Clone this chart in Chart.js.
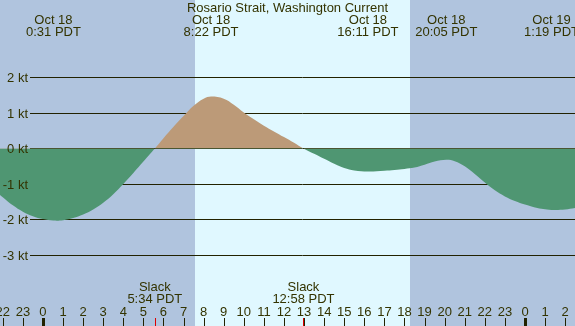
<!DOCTYPE html>
<html>
<head>
<meta charset="utf-8">
<script src="https://cdn.jsdelivr.net/npm/chart.js@4.4.1/dist/chart.umd.min.js"></script>
<style>
html,body{margin:0;padding:0;background:#b0c4de;}
#wrap{width:575px;height:326px;position:relative;}
</style>
</head>
<body>
<div id="wrap"><canvas id="c" width="575" height="326"></canvas></div>
<script>
// ---- data (hours since Oct 18 00:00 PDT, knots) ----
const hours = [-2.14,-1.5,-1.0,-0.5,0.0,0.52,1.0,1.5,2.0,2.5,3.0,3.5,4.0,4.5,5.0,5.57,6.0,6.5,7.0,7.5,8.0,8.37,9.0,9.5,10.0,10.5,11.0,11.5,12.0,12.5,12.97,13.5,14.0,14.5,15.0,15.5,16.18,17.0,17.5,18.0,18.5,19.0,19.5,20.08,20.5,21.0,21.5,22.0,22.5,23.0,23.5,24.0,24.5,25.32,26.0,26.49];
const knots = [-1.31,-1.60,-1.78,-1.91,-1.99,-2.03,-2.02,-1.96,-1.86,-1.72,-1.53,-1.29,-1.00,-0.69,-0.37,0.00,0.29,0.61,0.91,1.20,1.40,1.46,1.40,1.23,1.01,0.82,0.64,0.48,0.32,0.16,0.00,-0.15,-0.29,-0.43,-0.55,-0.62,-0.65,-0.63,-0.61,-0.58,-0.54,-0.46,-0.37,-0.32,-0.36,-0.50,-0.72,-0.96,-1.18,-1.35,-1.48,-1.58,-1.66,-1.73,-1.72,-1.68];
const yTicks = [2,1,0,-1,-2,-3];
const hourTicks = [-2,-1,0,1,2,3,4,5,6,7,8,9,10,11,12,13,14,15,16,17,18,19,20,21,22,23,24,25,26];
const eventTimes = [0.52,8.37,16.18,20.08,25.32];
const eventDates = ["Oct 18","Oct 18","Oct 18","Oct 18","Oct 19"];
const eventLabels = ["0:31 PDT","8:22 PDT","16:11 PDT","20:05 PDT","1:19 PDT"];
const slackTimes = [5.57,12.97];
const slackLabels = ["5:34 PDT","12:58 PDT"];
const daylight = [7.57,18.28];
const title = "Rosario Strait, Washington Current";

const FONT = '13px "Liberation Sans", Arial, sans-serif';
const TXT = '#333300';
const LINE = '#222200';

const decor = {
  id:'decor',
  beforeDatasetsDraw(chart){
    const {ctx, scales:{x,y}, width, height} = chart;
    ctx.save();
    ctx.fillStyle = '#b0c4de';
    ctx.fillRect(0,0,width,height);
    const x0 = Math.round(x.getPixelForValue(daylight[0]));
    const x1 = Math.round(x.getPixelForValue(daylight[1]));
    ctx.fillStyle = '#e0f8ff';
    ctx.fillRect(x0,0,x1-x0,height);
    ctx.strokeStyle = LINE; ctx.lineWidth = 1;
    yTicks.forEach(v=>{
      const py = Math.round(y.getPixelForValue(v))+0.5;
      ctx.beginPath(); ctx.moveTo(30,py); ctx.lineTo(width,py); ctx.stroke();
    });
    ctx.restore();
  },
  afterDatasetsDraw(chart){
    const {ctx, scales:{x,y}, width, height} = chart;
    ctx.save();
    ctx.font = FONT; ctx.fillStyle = TXT;
    ctx.textBaseline = 'middle'; ctx.textAlign = 'right';
    yTicks.forEach(v=>{
      const py = y.getPixelForValue(v);
      ctx.fillText(v + ' kt', 28, py+1);
    });
    ctx.textBaseline = 'alphabetic'; ctx.textAlign = 'center';
    ctx.fillText(title, width/2, 12);
    eventTimes.forEach((t,i)=>{
      const px = x.getPixelForValue(t);
      ctx.fillText(eventDates[i], px, 24);
      ctx.fillText(eventLabels[i], px, 36);
    });
    slackTimes.forEach((t,i)=>{
      const px = x.getPixelForValue(t);
      ctx.fillText('Slack', px, 291);
      ctx.fillText(slackLabels[i], px, 303);
      ctx.fillStyle = '#dd0000';
      ctx.fillRect(Math.round(px), 318, 1, height-318);
      ctx.fillStyle = TXT;
    });
    hourTicks.forEach(h=>{
      const px = x.getPixelForValue(h);
      const lab = ((h%24)+24)%24;
      ctx.fillStyle = TXT;
      ctx.fillText(String(lab), px, 316);
      ctx.fillStyle = LINE;
      if(lab===0) ctx.fillRect(Math.round(px)-1, 318, 3, height-318);
      else ctx.fillRect(Math.round(px), 318, 1, height-318);
    });
    ctx.restore();
  }
};

new Chart(document.getElementById('c'), {
  type:'line',
  data:{
    datasets:[{
      data: hours.map((h,i)=>({x:h,y:knots[i]})),
      borderWidth:0,
      borderColor:'rgba(0,0,0,0)',
      pointRadius:0,
      tension:0.4,
      fill:{target:'origin', above:'#bc9a78', below:'#4f9672'}
    }]
  },
  options:{
    responsive:false,
    animation:false,
    devicePixelRatio:1,
    layout:{padding:0},
    plugins:{legend:{display:false}, tooltip:{enabled:false}},
    scales:{
      x:{type:'linear', min:-2.14, max:26.49, display:false},
      y:{min:-5.0, max:4.18, display:false}
    }
  },
  plugins:[decor]
});
</script>
</body>
</html>
